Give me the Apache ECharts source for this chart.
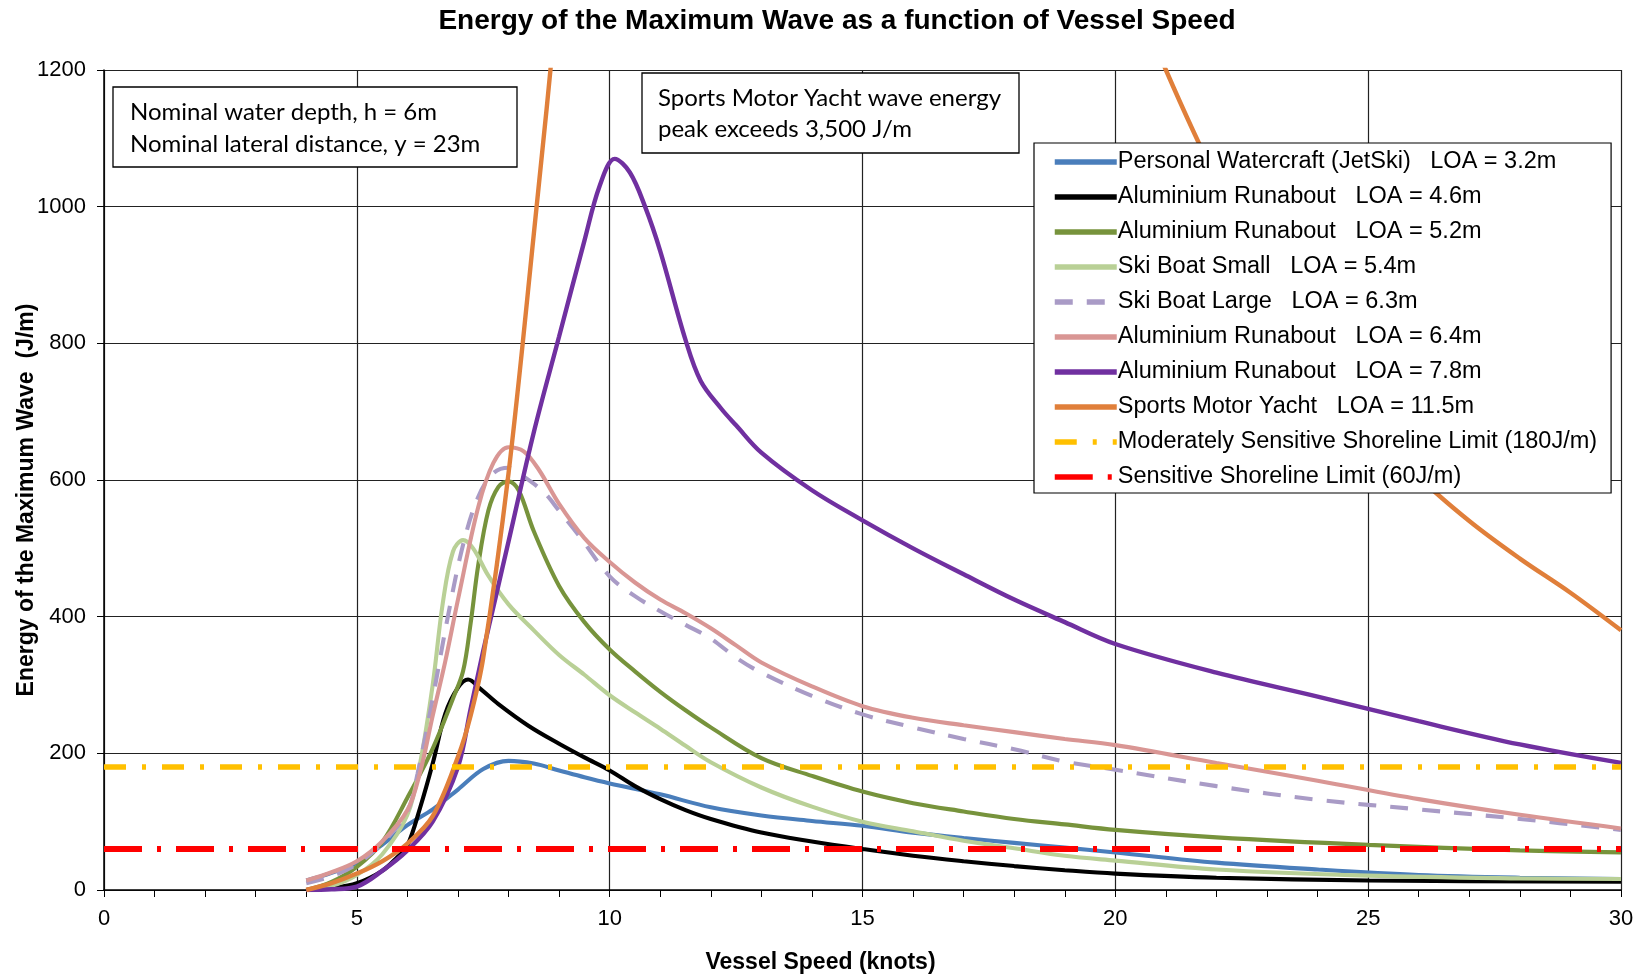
<!DOCTYPE html>
<html><head><meta charset="utf-8">
<script src="https://cdn.jsdelivr.net/npm/echarts@6/dist/echarts.min.js"></script>
<style>html,body{margin:0;padding:0;background:#fff}#c{width:1636px;height:977px}</style>
</head><body><div id="c"></div>
<script>
// ---- data (speed in knots, energy in J/m) ----
const seriesNames = [
  'Personal Watercraft (JetSki)   LOA = 3.2m',
  'Aluminium Runabout   LOA = 4.6m',
  'Aluminium Runabout   LOA = 5.2m',
  'Ski Boat Small   LOA = 5.4m',
  'Ski Boat Large   LOA = 6.3m',
  'Aluminium Runabout   LOA = 6.4m',
  'Aluminium Runabout   LOA = 7.8m',
  'Sports Motor Yacht   LOA = 11.5m',
  'Moderately Sensitive Shoreline Limit (180J/m)',
  'Sensitive Shoreline Limit (60J/m)'
];
const jetski32 = [[4,14],[4.5,25],[5,40],[5.5,66],[6,95],[6.5,118],[7,147],[7.5,177],[8,189],[8.5,185],[9,175],[9.5,165],[10,156],[11,140],[12,121],[13,109],[14,101],[15,94],[16,84],[17,76],[18,69],[19,62],[20,55],[22,40],[24,30],[26,22],[28,18],[30,16]];
const runabout46 = [[4,0],[4.5,3],[5,10],[5.5,28],[5.8,48],[6,65],[6.25,120],[6.5,185],[6.75,258],[7,296],[7.2,308],[7.45,294],[7.8,272],[8.4,240],[9,214],[9.5,194],[10,175],[10.5,152],[11,133],[11.5,117],[12,104],[13,84],[14,71],[15,60],[16,50],[17,42],[18,35],[19,29],[20,24],[22,18],[25,14],[30,12]];
const runabout52 = [[4,0],[4.5,12],[5,34],[5.5,70],[6,135],[6.5,207],[6.9,280],[7.1,320],[7.25,390],[7.4,475],[7.6,555],[7.8,590],[8,598],[8.2,585],[8.5,525],[9,445],[9.5,392],[10,352],[10.5,320],[11,290],[11.5,263],[12,238],[13,193],[14,167],[15,144],[16,127],[17,115],[18,104],[19,96],[20,88],[22,77],[25,66],[28,58],[30,55]];
const skiSmall54 = [[4,0],[4.5,6],[5,22],[5.5,52],[6,110],[6.25,185],[6.5,300],[6.7,420],[6.9,495],[7.1,512],[7.3,500],[7.6,460],[8,418],[8.5,380],[9,344],[9.5,315],[10,285],[10.5,260],[11,236],[11.5,211],[12,187],[13,150],[14,122],[15,100],[16,86],[17,72],[18,61],[19,50],[20,43],[22,30],[25,21],[28,17],[30,16]];
const skiLarge63 = [[4,10],[4.5,20],[5,38],[5.5,68],[6,115],[6.2,170],[6.5,280],[6.8,400],[7.1,505],[7.4,575],[7.7,610],[8,618],[8.3,605],[8.7,582],[9,555],[9.4,518],[10,459],[10.5,430],[11,408],[11.5,388],[12,368],[12.5,340],[13,318],[14,284],[15,257],[16,238],[17,221],[18,206],[19,188],[20,176],[22,152],[24,132],[26,118],[28,104],[30,88]];
const runabout64 = [[4,14],[4.5,26],[5,42],[5.5,71],[6,117],[6.25,172],[6.5,255],[6.75,335],[7,425],[7.4,560],[7.7,625],[8,648],[8.3,642],[8.6,615],[9,565],[9.5,515],[10,480],[10.5,450],[11,425],[11.5,405],[12,383],[12.5,358],[13,333],[14,298],[15,269],[16,252],[17,241],[18,231],[19,221],[20,212],[22,186],[24,160],[26,133],[28,110],[30,90]];
const runabout78 = [[4,0],[4.5,1],[5,5],[5.5,28],[6,58],[6.5,100],[7,180],[7.25,265],[7.5,350],[7.75,430],[8,510],[8.5,670],[9,810],[9.5,950],[9.8,1030],[10.1,1070],[10.4,1050],[10.7,1000],[11,935],[11.5,805],[11.8,745],[12.2,705],[12.5,680],[13,640],[14,585],[15,541],[16,500],[17,462],[18,425],[19,392],[20,360],[22,318],[24,283],[26,247],[28,213],[30,186]];
const yacht115 = [[4,0],[4.5,10],[5,24],[5.5,42],[6,68],[6.5,108],[7,195],[7.25,255],[7.5,340],[8,610],[8.5,960],[9,1330],[9.5,1750],[10,2200],[11,3000],[12,3500],[13,3550],[14,3300],[15,2900],[16,2500],[17,2150],[18,1850],[19,1580],[20,1380],[21,1200],[22,1040],[23,905],[24,790],[25,690],[26,605],[27,540],[28,485],[29,435],[30,380]];
const moderateLimit = 180;
const sensitiveLimit = 60;
const speedRange = [0, 30];

const colors = ['#4A7EBB','#000000','#77933C','#B9D096','#A99BC6','#D99694','#7030A0','#E07F3A','#FFC000','#FF0000'];
const curves = [jetski32, runabout46, runabout52, skiSmall54, skiLarge63, runabout64, runabout78, yacht115];

const series = curves.map((d, i) => ({
  name: seriesNames[i], type: 'line', data: d, smooth: 0.35, symbol: 'none',
  lineStyle: { color: colors[i], width: (i === 6 || i === 7) ? 4.4 : 4.1, type: i === 4 ? [18, 14] : 'solid', cap: 'butt' },
  itemStyle: { color: colors[i] }, z: 2
}));
series.push({
  name: seriesNames[8], type: 'line', symbol: 'none',
  data: speedRange.map(x => [x, moderateLimit]),
  lineStyle: { color: colors[8], width: 5.5, type: [22, 16, 4, 16] }, itemStyle: { color: colors[8] }, z: 3
});
series.push({
  name: seriesNames[9], type: 'line', symbol: 'none',
  data: speedRange.map(x => [x, sensitiveLimit]),
  lineStyle: { color: colors[9], width: 6, type: [38, 15, 4, 15] }, itemStyle: { color: colors[9] }, z: 3
});

const chart = echarts.init(document.getElementById('c'));
chart.setOption({
  animation: false,
  backgroundColor: '#fff',
  title: {
    text: 'Energy of the Maximum Wave as a function of Vessel Speed',
    left: 832, textAlign: 'center', top: 2,
    textStyle: { fontFamily: 'Liberation Sans', fontWeight: 'bold', fontSize: 28, color: '#000' }
  },
  grid: { left: 104, right: 15, top: 70, bottom: 87, outerBoundsMode: 'none', containLabel: false },
  xAxis: {
    type: 'value', min: 0, max: 30, interval: 5,
    name: 'Vessel Speed (knots)', nameLocation: 'middle', nameGap: 61, nameMoveOverlap: false,
    nameTextStyle: { fontFamily: 'Liberation Sans', fontWeight: 'bold', fontSize: 23, color: '#000', padding: [0, 84, 0, 0] },
    axisLine: { lineStyle: { color: '#000', width: 1.5 } },
    axisTick: { show: true, length: 7, lineStyle: { color: '#000' } },
    minorTick: { show: true, splitNumber: 5, length: 7, lineStyle: { color: '#000' } },
    axisLabel: { fontFamily: 'Liberation Sans', fontSize: 22, color: '#000', margin: 18 },
    splitLine: { show: true, lineStyle: { color: '#222', width: 1.2 } }
  },
  yAxis: {
    type: 'value', min: 0, max: 1200, interval: 200,
    name: 'Energy of the Maximum Wave  (J/m)', nameLocation: 'middle', nameGap: 66, nameMoveOverlap: false,
    nameTextStyle: { fontFamily: 'Liberation Sans', fontWeight: 'bold', fontSize: 23, color: '#000', padding: [0, 40, 0, 0] },
    axisLine: { show: true, lineStyle: { color: '#000', width: 1.5 } },
    axisTick: { show: true, length: 7, lineStyle: { color: '#000' } },
    axisLabel: { fontFamily: 'Liberation Sans', fontSize: 22, color: '#000', margin: 18, formatter: v => String(v) },
    splitLine: { show: true, lineStyle: { color: '#222', width: 1.2 } }
  },
  legend: {
    orient: 'vertical', left: 1034, top: 143,
    padding: [7, 14, 4, 18], itemGap: 11, itemWidth: 62, itemHeight: 14,
    backgroundColor: '#fff', borderColor: '#000', borderWidth: 1.2,
    itemStyle: { opacity: 0 },
    lineStyle: { width: 5.5 },
    textStyle: { fontFamily: 'Liberation Sans', fontSize: 23.5, lineHeight: 24, color: '#000', padding: [0, 0, 0, -4] },
    data: seriesNames
  },
  graphic: [
    { type: 'rect', shape: { x: 113, y: 87, width: 404, height: 80 }, style: { fill: '#fff', stroke: '#000', lineWidth: 1.3 }, z: 10 },
    { type: 'text', x: 130, y: 96, style: { text: 'Nominal water depth, h = 6m\nNominal lateral distance, y = 23m', font: '24px Lato', lineHeight: 32, fill: '#000' }, z: 11 },
    { type: 'rect', shape: { x: 642, y: 73, width: 377, height: 80 }, style: { fill: '#fff', stroke: '#000', lineWidth: 1.3 }, z: 10 },
    { type: 'text', x: 658, y: 83, style: { text: 'Sports Motor Yacht wave energy\npeak exceeds 3,500 J/m', font: '24px Lato', lineHeight: 31, fill: '#000' }, z: 11 }
  ],
  series: series
});
</script></body></html>
